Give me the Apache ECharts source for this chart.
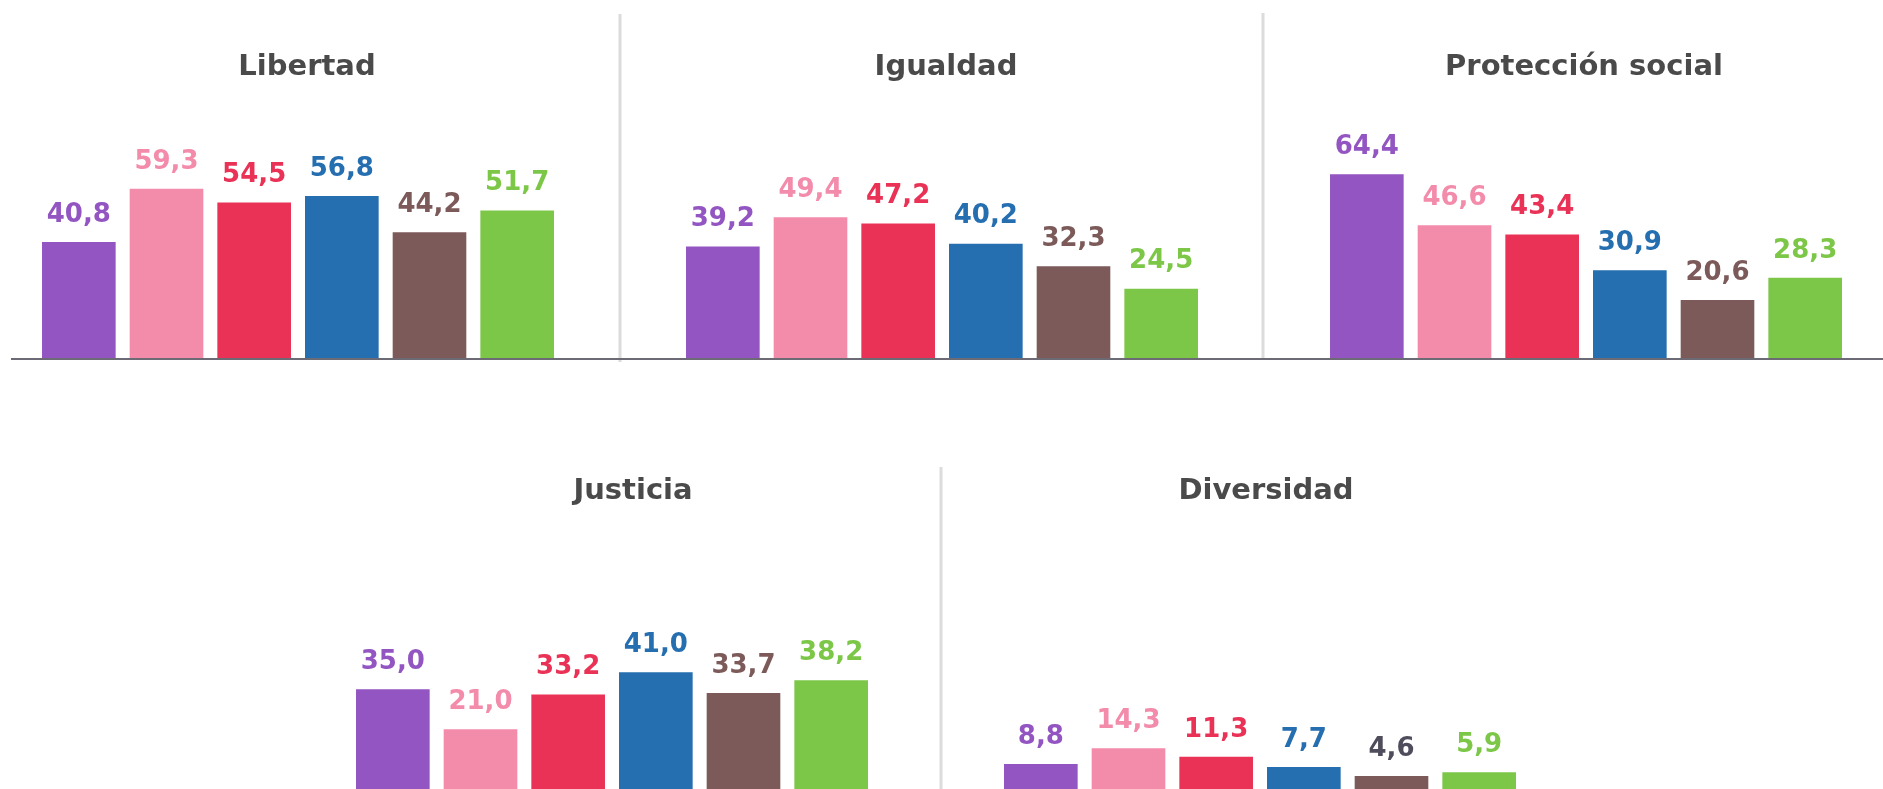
<!DOCTYPE html>
<html>
<head>
<meta charset="utf-8">
<title>Valores</title>
<script src="https://cdn.jsdelivr.net/npm/echarts@6/dist/echarts.min.js"></script>
<style>
  html, body { margin: 0; padding: 0; background: #fff; }
  #chart { width: 1883px; height: 789px; }
</style>
</head>
<body>
<div id="chart"></div>
<script>
// datos
var categories = ['G1', 'G2', 'G3', 'G4', 'G5', 'G6'];
var panels = ['Libertad', 'Igualdad', 'Protección social', 'Justicia', 'Diversidad'];
var libertad = [40.8, 59.3, 54.5, 56.8, 44.2, 51.7];
var igualdad = [39.2, 49.4, 47.2, 40.2, 32.3, 24.5];
var proteccion = [64.4, 46.6, 43.4, 30.9, 20.6, 28.3];
var justicia = [35.0, 21.0, 33.2, 41.0, 33.7, 38.2];
var diversidad = [8.8, 14.3, 11.3, 7.7, 4.6, 5.9];

var colors = ['#9355c1', '#f38bab', '#e93256', '#256eb0', '#7d5a5a', '#7dc748'];
var labelColors = [
  colors, colors, colors, colors,
  ['#9355c1', '#f38bab', '#e93256', '#256eb0', '#4f4d5b', '#7dc748']
];
var values = [libertad, igualdad, proteccion, justicia, diversidad];

// layout de cada panel
var layout = [
  {left: 35, top: 72, titleX: 302, titleY: 48},
  {left: 679, top: 72, titleX: 941, titleY: 48},
  {left: 1323, top: 72, titleX: 1579, titleY: 48},
  {left: 349, top: 504, titleX: 628, titleY: 472},
  {left: 997, top: 504, titleX: 1261, titleY: 472}
];
var font = '"DejaVu Sans", sans-serif';

var myChart = echarts.init(document.getElementById('chart'));

var titles = [], grids = [], xAxes = [], yAxes = [], series = [];
for (var i = 0; i < panels.length; i++) {
  titles.push({
    text: panels[i],
    left: layout[i].titleX,
    top: layout[i].titleY,
    textAlign: 'center',
    textStyle: {fontFamily: font, fontSize: 29, fontWeight: 'bold', color: '#4a4a4a'}
  });
  grids.push({left: layout[i].left, top: layout[i].top, width: 526, height: 287});
  xAxes.push({
    type: 'category', gridIndex: i, data: categories,
    axisLine: {show: false}, axisTick: {show: false}, axisLabel: {show: false}
  });
  yAxes.push({
    type: 'value', gridIndex: i, min: 0, max: 100,
    axisLine: {show: false}, axisTick: {show: false}, axisLabel: {show: false},
    splitLine: {show: false}
  });
  var data = [];
  for (var j = 0; j < values[i].length; j++) {
    data.push({
      value: values[i][j],
      itemStyle: {color: colors[j]},
      label: {color: labelColors[i][j]}
    });
  }
  series.push({
    type: 'bar', xAxisIndex: i, yAxisIndex: i,
    data: data,
    barCategoryGap: '16%',
    label: {
      show: true, position: 'top', distance: 14,
      fontFamily: font, fontSize: 26, fontWeight: 'bold',
      formatter: function (p) {
        return p.value.toFixed(1).replace('.', ',');
      }
    }
  });
}

var option = {
  animation: false,
  backgroundColor: '#fff',
  title: titles,
  grid: grids,
  xAxis: xAxes,
  yAxis: yAxes,
  series: series,
  graphic: [
    // separadores
    {type: 'line', z: 100, shape: {x1: 620, y1: 14, x2: 620, y2: 362}, style: {stroke: '#dcdcdc', lineWidth: 3}},
    {type: 'line', z: 100, shape: {x1: 1263, y1: 13, x2: 1263, y2: 360}, style: {stroke: '#dcdcdc', lineWidth: 3}},
    {type: 'line', z: 100, shape: {x1: 941, y1: 467, x2: 941, y2: 789}, style: {stroke: '#dcdcdc', lineWidth: 3}},
    // linea base
    {type: 'line', z: 101, shape: {x1: 11, y1: 359, x2: 1883, y2: 359}, style: {stroke: '#6b6a75', lineWidth: 2}}
  ]
};
myChart.setOption(option);
</script>
</body>
</html>
